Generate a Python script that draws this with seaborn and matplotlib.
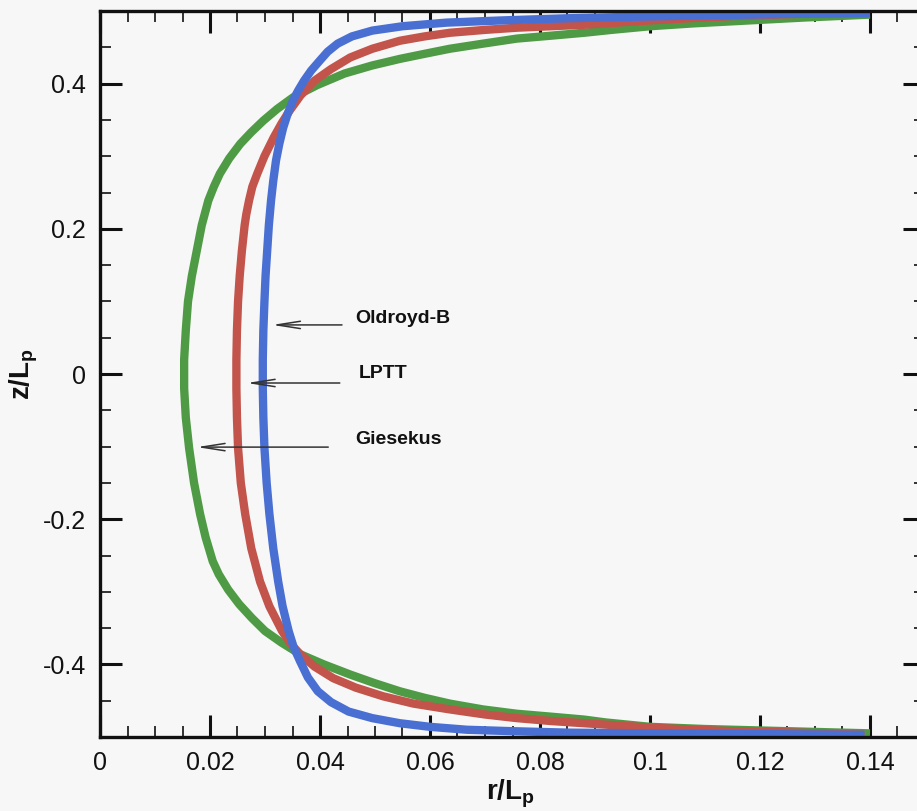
import numpy as np
import pandas as pd
import matplotlib
matplotlib.use("Agg")
import matplotlib.pyplot as plt
from matplotlib.ticker import MultipleLocator
import seaborn as sns

# Interface profiles r(z) for three viscoelastic models, listed from top (z/Lp = 0.5) to bottom
z_oldroyd = [0.497, 0.496, 0.494, 0.492, 0.490, 0.487, 0.484, 0.479, 0.473, 0.465,
             0.455, 0.444, 0.432, 0.418, 0.404, 0.390, 0.377, 0.358, 0.339, 0.317,
             0.294, 0.266, 0.239, 0.205, 0.170, 0.135, 0.100, 0.060, 0.020, -0.020,
             -0.060, -0.102, -0.150, -0.193, -0.240, -0.286, -0.320, -0.354, -0.376, -0.396,
             -0.418, -0.437, -0.452, -0.465, -0.474, -0.481, -0.486, -0.490, -0.492, -0.494,
             -0.495, -0.496, -0.497]
r_oldroyd = [0.140, 0.125, 0.110, 0.097, 0.085, 0.073, 0.063, 0.055, 0.0495, 0.0458,
             0.0432, 0.0414, 0.0400, 0.0384, 0.0371, 0.0360, 0.0351, 0.0341, 0.0333, 0.0326,
             0.0320, 0.0315, 0.0311, 0.0307, 0.0304, 0.0301, 0.0299, 0.0297, 0.0296, 0.0296,
             0.0297, 0.0299, 0.0303, 0.0308, 0.0315, 0.0324, 0.0332, 0.0343, 0.0352, 0.0364,
             0.0378, 0.0396, 0.0420, 0.0452, 0.0495, 0.0545, 0.0600, 0.0667, 0.075, 0.085,
             0.100, 0.120, 0.139]

z_lptt = [0.498, 0.496, 0.493, 0.490, 0.487, 0.484, 0.481, 0.477, 0.474, 0.470,
          0.465, 0.459, 0.448, 0.436, 0.420, 0.404, 0.384, 0.363, 0.345, 0.326,
          0.300, 0.276, 0.258, 0.239, 0.220, 0.205, 0.170, 0.135, 0.100, 0.060,
          0.020, -0.020, -0.060, -0.102, -0.150, -0.193, -0.240, -0.286, -0.320, -0.354,
          -0.372, -0.386, -0.403, -0.419, -0.432, -0.444, -0.454, -0.462, -0.469, -0.474,
          -0.478, -0.481, -0.487, -0.490, -0.492, -0.494, -0.497]
r_lptt = [0.140, 0.127, 0.115, 0.107, 0.100, 0.094, 0.088, 0.0758, 0.0700, 0.0636,
          0.0590, 0.0545, 0.0495, 0.0455, 0.0420, 0.0390, 0.0365, 0.0345, 0.0330, 0.0316,
          0.0299, 0.0286, 0.0277, 0.0271, 0.0266, 0.0263, 0.0258, 0.0254, 0.0251, 0.0249,
          0.0248, 0.0248, 0.0249, 0.0251, 0.0256, 0.0264, 0.0275, 0.0291, 0.0308, 0.0331,
          0.0347, 0.0364, 0.0390, 0.0424, 0.0465, 0.0515, 0.0570, 0.0636, 0.0700, 0.0758,
          0.082, 0.088, 0.100, 0.108, 0.115, 0.127, 0.139]

z_giesekus = [0.495, 0.491, 0.487, 0.483, 0.479, 0.474, 0.470, 0.466, 0.462, 0.455,
              0.448, 0.441, 0.434, 0.425, 0.414, 0.398, 0.381, 0.365, 0.349, 0.333,
              0.317, 0.297, 0.276, 0.258, 0.239, 0.205, 0.170, 0.135, 0.100, 0.060,
              0.020, -0.020, -0.060, -0.102, -0.150, -0.193, -0.225, -0.258, -0.276, -0.297,
              -0.317, -0.336, -0.354, -0.370, -0.386, -0.400, -0.414, -0.426, -0.437, -0.446,
              -0.454, -0.462, -0.468, -0.472, -0.476, -0.480, -0.486, -0.489, -0.491, -0.493,
              -0.495]
r_giesekus = [0.140, 0.128, 0.118, 0.108, 0.100, 0.093, 0.088, 0.082, 0.0758, 0.0696,
              0.0636, 0.0590, 0.0545, 0.0495, 0.0445, 0.0395, 0.0351, 0.0322, 0.0297, 0.0275,
              0.0255, 0.0235, 0.0218, 0.0207, 0.0197, 0.0185, 0.0176, 0.0167, 0.0160, 0.0156,
              0.0153, 0.0153, 0.0156, 0.0162, 0.0171, 0.0182, 0.0192, 0.0205, 0.0216, 0.0233,
              0.0253, 0.0276, 0.0300, 0.0330, 0.0364, 0.0407, 0.0455, 0.0500, 0.0545, 0.0590,
              0.0636, 0.0696, 0.0758, 0.082, 0.088, 0.092, 0.100, 0.110, 0.120, 0.130,
              0.140]

models = ["Giesekus", "LPTT", "Oldroyd-B"]
colors = {"Giesekus": "#4f9b45", "LPTT": "#c2544b", "Oldroyd-B": "#4a6fd3"}

# Label positions and arrow tips (data coordinates)
label_text = ["Oldroyd-B", "LPTT", "Giesekus"]
label_r = [0.0465, 0.0470, 0.0465]
label_z = [0.076, 0.001, -0.090]
arrow_tip_r = [0.0313, 0.0267, 0.0176]
arrow_tip_z = [0.0676, -0.0124, -0.1007]
arrow_tail_r = [0.0440, 0.0436, 0.0415]

frames = []
for name, rr, zz in [("Giesekus", r_giesekus, z_giesekus),
                     ("LPTT", r_lptt, z_lptt),
                     ("Oldroyd-B", r_oldroyd, z_oldroyd)]:
    frames.append(pd.DataFrame({"r": rr, "z": zz, "model": name}))
df = pd.concat(frames, ignore_index=True)

sns.set_theme(style="ticks")
plt.rcParams["font.family"] = ["Liberation Sans", "DejaVu Sans"]
plt.rcParams["mathtext.fontset"] = "custom"
plt.rcParams["mathtext.rm"] = "Liberation Sans"
plt.rcParams["mathtext.bf"] = "Liberation Sans:bold"
plt.rcParams["mathtext.it"] = "Liberation Sans:italic"

bg = "#f7f7f7"
fig = plt.figure(figsize=(9.17, 8.11), dpi=100, facecolor=bg)
ax = fig.add_axes([100 / 917, 1 - 737 / 811, 825 / 917, 726 / 811])
ax.set_facecolor(bg)

sns.lineplot(data=df, x="r", y="z", hue="model", hue_order=models, palette=colors,
             sort=False, estimator=None, units="model", linewidth=6.0, legend=False,
             ax=ax)
for line in ax.get_lines():
    line.set_solid_capstyle("butt")
    line.set_solid_joinstyle("round")

ax.set_xlim(0, 0.15)
ax.set_ylim(-0.5, 0.5)

ax.xaxis.set_minor_locator(MultipleLocator(0.005))
ax.yaxis.set_minor_locator(MultipleLocator(0.05))
ax.set_xticks(np.arange(0, 0.15, 0.02))
ax.set_xticklabels(["0", "0.02", "0.04", "0.06", "0.08", "0.1", "0.12", "0.14"])
ax.set_yticks([-0.4, -0.2, 0.0, 0.2, 0.4])
ax.set_yticklabels(["-0.4", "-0.2", "0", "0.2", "0.4"])

ax.tick_params(which="both", direction="in", top=True, right=True, color="#111111")
ax.tick_params(which="major", length=16, width=2.2, labelsize=18, pad=10,
               labelcolor="#111111")
ax.tick_params(which="minor", length=8, width=1.2)
for sp in ax.spines.values():
    sp.set_linewidth(2.4)
    sp.set_color("#111111")
    sp.set_visible(True)

ax.set_xlabel(r"$\mathbf{r/L_p}$", fontsize=20, color="#111111")
ax.set_ylabel(r"$\mathbf{z/L_p}$", fontsize=20, color="#111111")
ax.xaxis.set_label_coords(0.497, -0.078)
ax.xaxis.label.set_va("center")
ax.yaxis.set_label_coords(-0.092, 0.5)
ax.yaxis.label.set_va("center")

for txt, tr, tz, hr, hz, sr in zip(label_text, label_r, label_z,
                                   arrow_tip_r, arrow_tip_z, arrow_tail_r):
    ax.text(tr, tz, txt, fontsize=14, fontweight="bold", color="#111111",
            ha="left", va="center")
    ax.annotate("", xy=(hr, hz), xytext=(sr, hz),
                arrowprops=dict(arrowstyle="->,head_length=1.4,head_width=0.22",
                                lw=1.1, color="#333333", shrinkA=0, shrinkB=0))

fig.savefig("out.png", dpi=100, facecolor=bg)
